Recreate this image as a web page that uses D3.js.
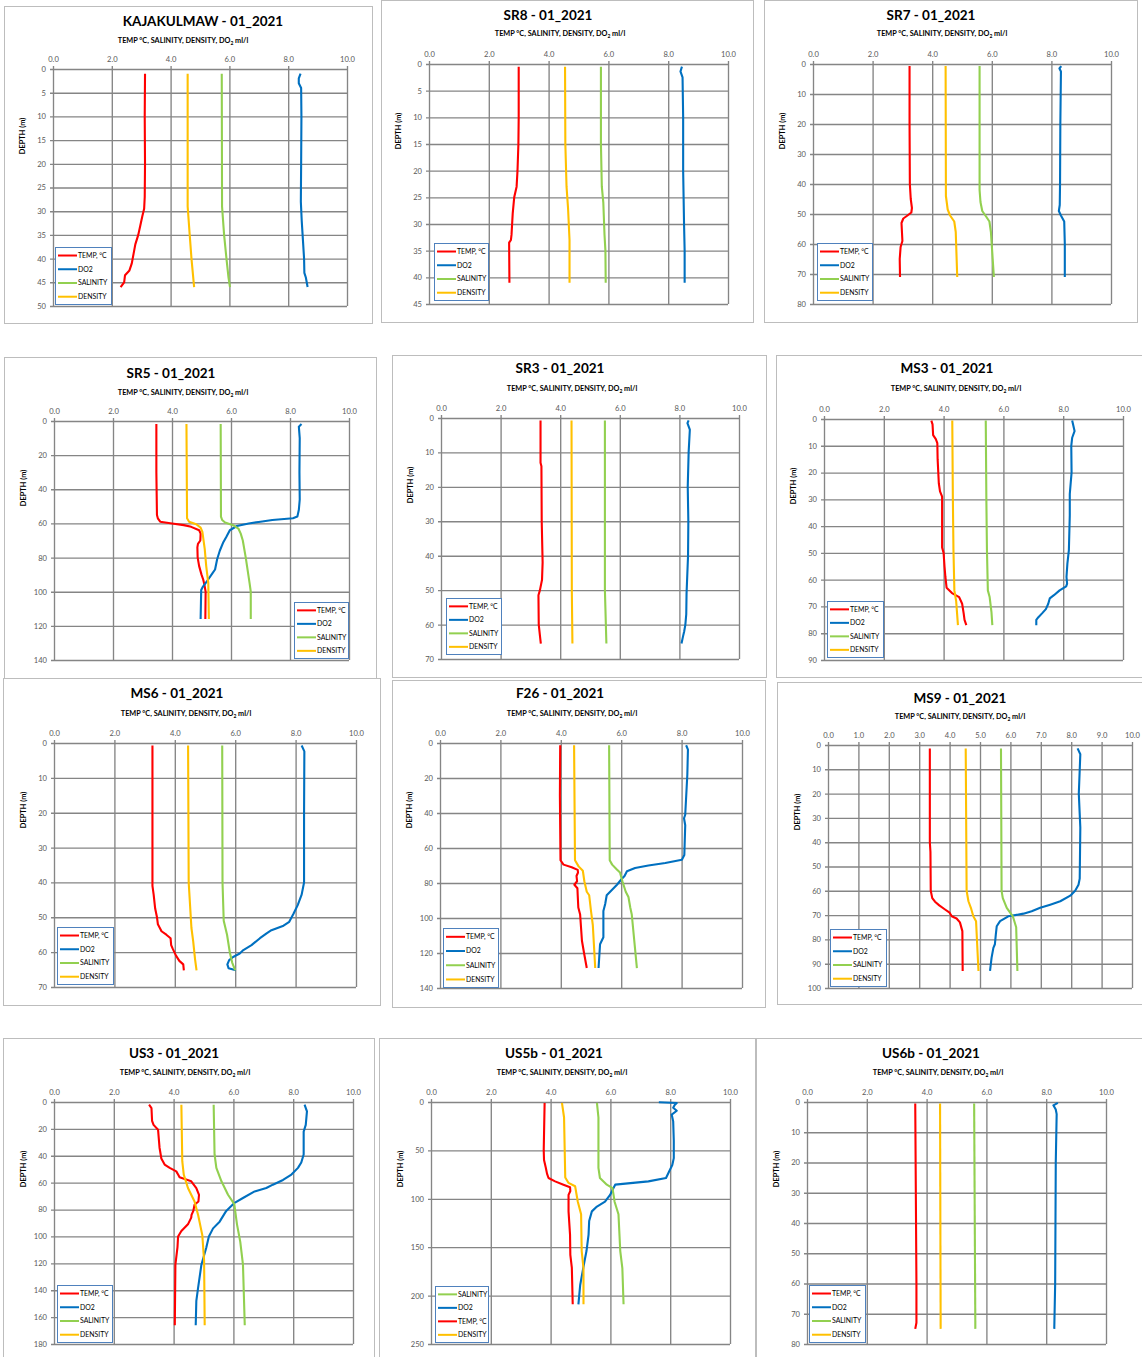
<!DOCTYPE html>
<html><head><meta charset="utf-8">
<script src="https://cdn.jsdelivr.net/npm/d3@7"></script>
<style>
body{margin:0;background:#fff;}
svg{display:block;font-family:Lato,"Open Sans",sans-serif;}
</style></head>
<body>
<svg id="c" width="1142" height="1357"></svg>
<script>
// ---------------- DATA: [depth (m), value] ----------------
const titles = ["KAJAKULMAW - 01_2021","SR8 - 01_2021","SR7 - 01_2021","SR5 - 01_2021","SR3 - 01_2021","MS3 - 01_2021",
                "MS6 - 01_2021","F26 - 01_2021","MS9 - 01_2021","US3 - 01_2021","US5b - 01_2021","US6b - 01_2021"];
const depthMax = [50,45,80,140,70,90,70,140,100,180,250,80];
const depthStep = [5,5,10,20,10,10,10,20,10,20,50,10];
const valueStep = [2,2,2,2,2,2,2,2,1,2,2,2];
const seriesNames = ["TEMP, °C","DO2","SALINITY","DENSITY"];

const kajTemp=[[1,3.13],[10,3.12],[20,3.13],[27,3.12],[29.5,3.1],[31,3.04],[33,2.97],[35,2.9],[37,2.8],[39,2.74],[41,2.68],[42.5,2.6],[43.5,2.45],[45,2.42],[46,2.3]];
const kajDO2=[[1,8.42],[2,8.36],[3,8.36],[4,8.44],[10,8.45],[20,8.44],[28,8.43],[32,8.46],[36,8.5],[40,8.54],[43,8.55],[44,8.6],[46,8.66]];
const kajSal=[[1,5.74],[29,5.75],[35,5.82],[40,5.9],[44,5.97],[46,6.02]];
const kajDen=[[1,4.58],[29,4.58],[35,4.65],[40,4.71],[46,4.8]];

const sr8Temp=[[0.5,3.0],[10,3.0],[15,2.99],[20,2.96],[23,2.93],[25,2.85],[28,2.8],[32,2.76],[33,2.74],[33.5,2.68],[41,2.69]];
const sr8DO2=[[0.5,8.46],[1.4,8.41],[2.5,8.48],[10,8.5],[20,8.5],[30,8.53],[35,8.55],[41,8.55]];
const sr8Sal=[[0.5,5.75],[15,5.75],[23,5.78],[26,5.83],[32,5.87],[35,5.9],[41,5.91]];
const sr8Den=[[0.5,4.55],[15,4.56],[23,4.6],[27,4.65],[33,4.7],[41,4.7]];

const sr7Temp=[[0.7,3.24],[20,3.24],[40,3.25],[45,3.28],[48,3.32],[49.5,3.3],[50.5,3.17],[51.5,3.03],[53,2.97],[57,2.99],[59,3.0],[61,2.94],[65,2.91],[71,2.92]];
const sr7DO2=[[0.7,8.33],[1.5,8.27],[2.5,8.32],[20,8.3],[40,8.29],[47,8.28],[49,8.25],[50.5,8.32],[52.5,8.43],[60,8.45],[71,8.45]];
const sr7Sal=[[0.7,5.59],[42,5.59],[46,5.62],[49,5.68],[51,5.82],[52.5,5.92],[56,5.97],[65,6.03],[71,6.07]];
const sr7Den=[[0.7,4.45],[44,4.46],[48.5,4.52],[50.5,4.6],[52.5,4.74],[56,4.79],[71,4.84]];

const sr5Temp=[[1.8,3.47],[30,3.47],[55,3.49],[57,3.52],[59,3.6],[60,4.0],[61,4.4],[62,4.65],[64,4.92],[66,4.97],[70,4.96],[72,4.88],[74,4.86],[80,4.87],[85,4.92],[90,5.0],[93,5.06],[96,5.1],[100,5.14],[116,5.13]];
const sr5DO2=[[1.8,8.39],[3.3,8.3],[10,8.33],[30,8.32],[46,8.33],[52,8.3],[56,8.25],[57,8.1],[58,7.4],[59,7.0],[60,6.6],[61.5,6.2],[64,5.96],[68,5.84],[71,5.74],[76,5.62],[81,5.53],[87,5.46],[89,5.38],[93,5.22],[97,5.05],[99,4.99],[116,4.97]];
const sr5Sal=[[1.8,5.65],[56,5.66],[58,5.7],[59.5,5.8],[61,6.07],[63,6.25],[66,6.33],[70,6.4],[80,6.5],[95,6.63],[100,6.67],[116,6.67]];
const sr5Den=[[1.8,4.49],[57,4.51],[59,4.58],[60.5,4.82],[62.5,4.97],[65,5.03],[75,5.11],[85,5.16],[95,5.23],[116,5.25]];

const sr3Temp=[[0.7,3.34],[13,3.34],[14,3.37],[30,3.38],[42,3.41],[47,3.39],[50,3.32],[51.5,3.27],[60,3.28],[64,3.33],[65.5,3.35]];
const sr3DO2=[[0.7,8.31],[1.5,8.27],[3.4,8.35],[10,8.31],[20,8.28],[30,8.3],[40,8.29],[51,8.24],[57,8.23],[60,8.2],[62,8.16],[63.5,8.12],[65.5,8.07]];
const sr3Sal=[[0.7,5.5],[50,5.5],[65.5,5.55]];
const sr3Den=[[0.7,4.38],[50,4.39],[65.5,4.41]];

const ms3Temp=[[0.6,3.59],[2,3.63],[6,3.65],[7.5,3.74],[9,3.79],[15,3.8],[24,3.84],[27,3.88],[29,3.95],[48,3.95],[50,4.0],[55,4.03],[59,4.06],[63,4.1],[65,4.28],[66.5,4.52],[69,4.62],[72.5,4.67],[75,4.7],[77,4.76]];
const ms3DO2=[[0.6,8.3],[4.5,8.38],[7,8.3],[10,8.27],[20,8.28],[28,8.22],[36,8.22],[49,8.19],[54,8.14],[59,8.11],[61.5,8.13],[62.5,8.1],[64,7.88],[65.8,7.69],[67,7.55],[69,7.5],[71,7.42],[72.5,7.3],[74,7.17],[75,7.1],[77,7.1]];
const ms3Sal=[[0.6,5.41],[30,5.43],[49,5.45],[64,5.48],[66.5,5.54],[72,5.6],[77,5.63]];
const ms3Den=[[0.6,4.29],[30,4.31],[49,4.33],[64,4.36],[68,4.42],[77,4.48]];

const ms6Temp=[[0.7,3.26],[20,3.26],[41,3.26],[43.5,3.3],[47.5,3.35],[50,3.41],[52,3.44],[54,3.56],[55,3.72],[56,3.86],[58,3.88],[59,3.93],[61,4.04],[62.5,4.15],[63.5,4.28],[65.2,4.3]];
const ms6DO2=[[0.7,8.2],[2.4,8.29],[20,8.28],[40,8.28],[43.5,8.2],[46.5,8.07],[49,7.93],[51.3,7.79],[52.4,7.6],[53.7,7.2],[54.6,7.04],[56,6.82],[58,6.54],[59.4,6.27],[60.4,6.15],[61.4,5.93],[62.3,5.8],[63.5,5.74],[64.6,5.78],[65.2,6.02]];
const ms6Sal=[[0.7,5.57],[40,5.58],[51,5.62],[55,5.73],[60,5.82],[63,5.9],[65.2,6.0]];
const ms6Den=[[0.7,4.44],[40,4.46],[53,4.55],[57,4.61],[62,4.67],[65.2,4.72]];

const f26Temp=[[1.3,3.98],[30,3.97],[67,3.99],[69.5,4.09],[71,4.36],[72.5,4.56],[74,4.57],[76,4.52],[79,4.54],[81,4.45],[83,4.55],[87,4.56],[94,4.58],[98,4.64],[113,4.7],[121,4.78],[128.6,4.86]];
const f26DO2=[[1.3,8.15],[3.8,8.21],[18,8.19],[41,8.12],[43,8.08],[47,8.12],[64,8.09],[66.7,8.01],[68.6,7.46],[70,6.9],[71.4,6.46],[73.3,6.19],[76,6.11],[78,6.0],[81,5.86],[84,5.69],[87,5.52],[92,5.47],[96,5.41],[111,5.41],[115,5.3],[128.6,5.25]];
const f26Sal=[[1.3,5.6],[67,5.62],[69.5,5.7],[72,5.84],[74,5.96],[79,6.04],[85,6.15],[88,6.24],[94,6.3],[98,6.35],[128.6,6.52]];
const f26Den=[[1.3,4.44],[67,4.47],[70.5,4.59],[73,4.73],[79,4.78],[85,4.86],[87,4.94],[96,5.0],[104,5.06],[128.6,5.14]];

const ms9Temp=[[1.4,3.35],[40,3.35],[44,3.37],[60,3.38],[63,3.43],[64.5,3.52],[66,3.66],[67.7,3.85],[69,4.0],[70.5,4.07],[71.4,4.23],[73,4.34],[76.6,4.42],[93,4.43]];
const ms9DO2=[[1.4,8.21],[3.8,8.3],[20,8.25],[34,8.3],[55,8.28],[57.5,8.24],[60,8.13],[62,7.97],[64.3,7.64],[65.7,7.31],[67,6.98],[68.4,6.7],[69.4,6.43],[70.5,5.93],[72.5,5.66],[74.6,5.55],[78,5.52],[82,5.49],[83.5,5.44],[87.6,5.38],[93,5.33]];
const ms9Sal=[[1.4,5.69],[60,5.71],[63,5.75],[67,5.88],[70.5,6.08],[75,6.19],[93,6.23]];
const ms9Den=[[1.4,4.53],[60,4.56],[64.3,4.62],[67,4.7],[70.5,4.78],[72.5,4.87],[93,4.95]];

const us3Temp=[[2,3.18],[4.5,3.26],[14,3.28],[17,3.33],[20.6,3.48],[34,3.53],[42,3.59],[46.5,3.7],[49,3.87],[51.6,4.09],[54,4.15],[56,4.2],[59,4.59],[64,4.76],[69,4.85],[74,4.83],[76.4,4.7],[81,4.66],[84,4.6],[86,4.59],[91,4.48],[96,4.26],[100,4.15],[108,4.13],[121,4.06],[166,4.04]];
const us3DO2=[[2,8.38],[7,8.46],[17,8.42],[22,8.35],[39,8.35],[45,8.27],[49,8.16],[54,7.94],[58,7.66],[61.5,7.32],[64,7.1],[66.5,6.71],[71.4,6.32],[75,6.04],[81,5.76],[89,5.54],[94,5.32],[100,5.18],[108.6,5.09],[121,4.93],[138,4.82],[148,4.76],[166,4.74]];
const us3Sal=[[2,5.34],[39,5.37],[49,5.43],[59,5.6],[69,5.82],[76,6.03],[91,6.12],[104,6.23],[121,6.32],[166,6.38]];
const us3Den=[[2,4.26],[44,4.29],[54,4.34],[64,4.48],[74,4.7],[84,4.82],[99,4.96],[118,5.02],[166,5.04]];

const us5bTemp=[[1,3.8],[50,3.77],[60,3.78],[68,3.84],[74,3.88],[78.5,3.93],[82,4.15],[85.4,4.43],[88,4.65],[92,4.66],[96,4.6],[113,4.6],[137,4.65],[158,4.66],[171,4.71],[209,4.74]];
const us5bDO2=[[0.3,7.62],[1,8.22],[3,8.15],[6,8.1],[9,8.22],[13,8.05],[20,8.1],[40,8.12],[58,8.12],[65,8.07],[72,7.96],[78.5,7.86],[82,7.27],[85.4,6.16],[89,6.1],[96,5.99],[103,5.82],[108,5.55],[113,5.38],[123,5.29],[137,5.27],[154,5.2],[165,5.13],[189,4.99],[209,4.93]];
const us5bSal=[[1,5.55],[16,5.6],[68,5.6],[78.5,5.65],[85.4,5.88],[89,6.07],[103,6.14],[116,6.27],[154,6.33],[172,6.4],[209,6.44]];
const us5bDen=[[1,4.38],[16,4.45],[78,4.49],[83.6,4.6],[87,4.82],[103,4.91],[116,5.02],[154,5.04],[172,5.1],[209,5.1]];

const us6bTemp=[[0.5,3.62],[30,3.64],[60,3.66],[73,3.66],[75,3.62]];
const us6bDO2=[[0.3,8.39],[1.1,8.24],[2.5,8.32],[4,8.35],[20,8.32],[40,8.31],[60,8.3],[75,8.27]];
const us6bSal=[[0.5,5.59],[75,5.63]];
const us6bDen=[[0.5,4.45],[75,4.47]];

// ---------------- LAYOUT ----------------
const colors = {"TEMP, °C":"#ff0000","DO2":"#0070c0","SALINITY":"#92d050","DENSITY":"#ffc000"};
const layout = [
 {box:[4,6,372,323],  plot:[53,347,69,306],   title:[203,26], sub:[183,43],  leg:[55,247,56,57]},
 {box:[381,0,753,322],plot:[429,728,64,304],  title:[548,20], sub:[560,36],  leg:[434,243,54,57]},
 {box:[764,0,1137,322],plot:[813,1111,64,304],title:[931,20], sub:[942,36],  leg:[817,243,55,57]},
 {box:[4,357,376,678],plot:[54,349,421,660],  title:[171,378],sub:[183,395], leg:[294,602,54,56]},
 {box:[392,355,766,677],plot:[441,739,418,659],title:[560,373],sub:[572,391],leg:[446,598,55,56]},
 {box:[776,355,1150,677],plot:[824,1123,419,660],title:[947,373],sub:[956,391],leg:[827,601,56,56]},
 {box:[3,678,380,1005],plot:[54,356,743,987], title:[177,698],sub:[186,716], leg:[57,927,56,57]},
 {box:[392,680,765,1007],plot:[440,742,743,988],title:[560,698],sub:[572,716],leg:[443,928,55,59]},
 {box:[777,682,1150,1004],plot:[828,1132,745,988],title:[960,703],sub:[960,719],leg:[830,929,56,57]},
 {box:[3,1038,374,1370],plot:[54,353,1102,1344],title:[174,1058],sub:[185,1075],leg:[57,1285,55,57]},
 {box:[379,1038,755,1370],plot:[431,730,1102,1344],title:[554,1058],sub:[562,1075],leg:[435,1286,53,56]},
 {box:[756,1038,1150,1370],plot:[807,1106,1102,1344],title:[931,1058],sub:[938,1075],leg:[809,1285,56,57]}
];
const panelSeries = [
 [kajTemp,kajDO2,kajSal,kajDen],[sr8Temp,sr8DO2,sr8Sal,sr8Den],[sr7Temp,sr7DO2,sr7Sal,sr7Den],
 [sr5Temp,sr5DO2,sr5Sal,sr5Den],[sr3Temp,sr3DO2,sr3Sal,sr3Den],[ms3Temp,ms3DO2,ms3Sal,ms3Den],
 [ms6Temp,ms6DO2,ms6Sal,ms6Den],[f26Temp,f26DO2,f26Sal,f26Den],[ms9Temp,ms9DO2,ms9Sal,ms9Den],
 [us3Temp,us3DO2,us3Sal,us3Den],[us5bTemp,us5bDO2,us5bSal,us5bDen],[us6bTemp,us6bDO2,us6bSal,us6bDen]
];
const legendOrder = titles.map((t,i)=> i===10 ? ["SALINITY","DO2","TEMP, °C","DENSITY"] : seriesNames);

const svg = d3.select("#c");
svg.append("rect").attr("width",1142).attr("height",1357).attr("fill","#fff");

titles.forEach((title,i)=>{
  const L = layout[i];
  const [bx0,by0,bx1,by1] = L.box;
  const [px0,px1,py0,py1] = L.plot;
  const g = svg.append("g");
  g.append("rect").attr("x",bx0+0.5).attr("y",by0+0.5).attr("width",bx1-bx0).attr("height",by1-by0)
    .attr("fill","#fff").attr("stroke","#bdbdbd").attr("stroke-width",1);

  const x = d3.scaleLinear().domain([0,10]).range([px0,px1]);
  const y = d3.scaleLinear().domain([0,depthMax[i]]).range([py0,py1]);
  const xt = d3.range(0,10+1e-9,valueStep[i]);
  const yt = d3.range(0,depthMax[i]+1e-9,depthStep[i]);

  const gx = g.append("g").attr("transform",`translate(0,${py0})`)
    .call(d3.axisTop(x).tickValues(xt).tickFormat(d3.format(".1f")).tickSizeInner(-(py1-py0)).tickSizeOuter(0).tickPadding(7));
  gx.select(".domain").remove();
  gx.selectAll(".tick line").attr("y1",-3).attr("stroke","#858585").attr("stroke-width",1.35);
  gx.selectAll(".tick text").attr("fill","#595959").style("font-size","7.6px").style("font-family","Lato");

  const gy = g.append("g").attr("transform",`translate(${px0},0)`)
    .call(d3.axisLeft(y).tickValues(yt).tickFormat(d3.format("d")).tickSizeInner(-(px1-px0)).tickSizeOuter(0).tickPadding(7));
  gy.select(".domain").remove();
  gy.selectAll(".tick line").attr("x1",-3).attr("stroke","#858585").attr("stroke-width",1.35);
  gy.selectAll(".tick text").attr("fill","#595959").style("font-size","7.6px").style("font-family","Lato");

  // series lines
  const line = d3.line().x(d=>x(d[1])).y(d=>y(d[0]));
  panelSeries[i].forEach((s,k)=>{
    g.append("path").datum(s).attr("d",line).attr("fill","none")
      .attr("stroke",colors[seriesNames[k]]).attr("stroke-width",2.1).attr("stroke-linejoin","round");
  });

  // titles
  g.append("text").attr("x",L.title[0]).attr("y",L.title[1]).attr("text-anchor","middle")
    .style("font-size","13.5px").style("font-weight","bold").attr("fill","#000").text(title);
  const st = g.append("text").attr("x",L.sub[0]).attr("y",L.sub[1]).attr("text-anchor","middle")
    .style("font-size","7.3px").style("font-weight","bold").attr("fill","#000");
  st.append("tspan").text("TEMP °C, SALINITY, DENSITY, DO");
  st.append("tspan").attr("dy",1.6).style("font-size","5px").text("2");
  st.append("tspan").attr("dy",-1.6).text(" ml/l");

  g.append("text").attr("transform",`translate(${px0-28},${py0+67}) rotate(-90)`).attr("text-anchor","middle")
    .style("font-size","7.4px").style("font-weight","bold").attr("fill","#000").text("DEPTH (m)");

  // legend
  const [lx,ly,lw,lh] = L.leg;
  const lg = g.append("g");
  lg.append("rect").attr("x",lx+0.5).attr("y",ly+0.5).attr("width",lw).attr("height",lh)
    .attr("fill","#fff").attr("stroke","#4f81bd").attr("stroke-width",1);
  legendOrder[i].forEach((name,k)=>{
    const cy = ly + lh*(k+0.62)/4.15;
    lg.append("line").attr("x1",lx+3).attr("x2",lx+22).attr("y1",cy).attr("y2",cy)
      .attr("stroke",colors[name]).attr("stroke-width",2);
    lg.append("text").attr("x",lx+23).attr("y",cy).attr("dy","0.35em")
      .style("font-size","6.9px").attr("fill","#000").text(name);
  });
});
</script>
</body></html>
